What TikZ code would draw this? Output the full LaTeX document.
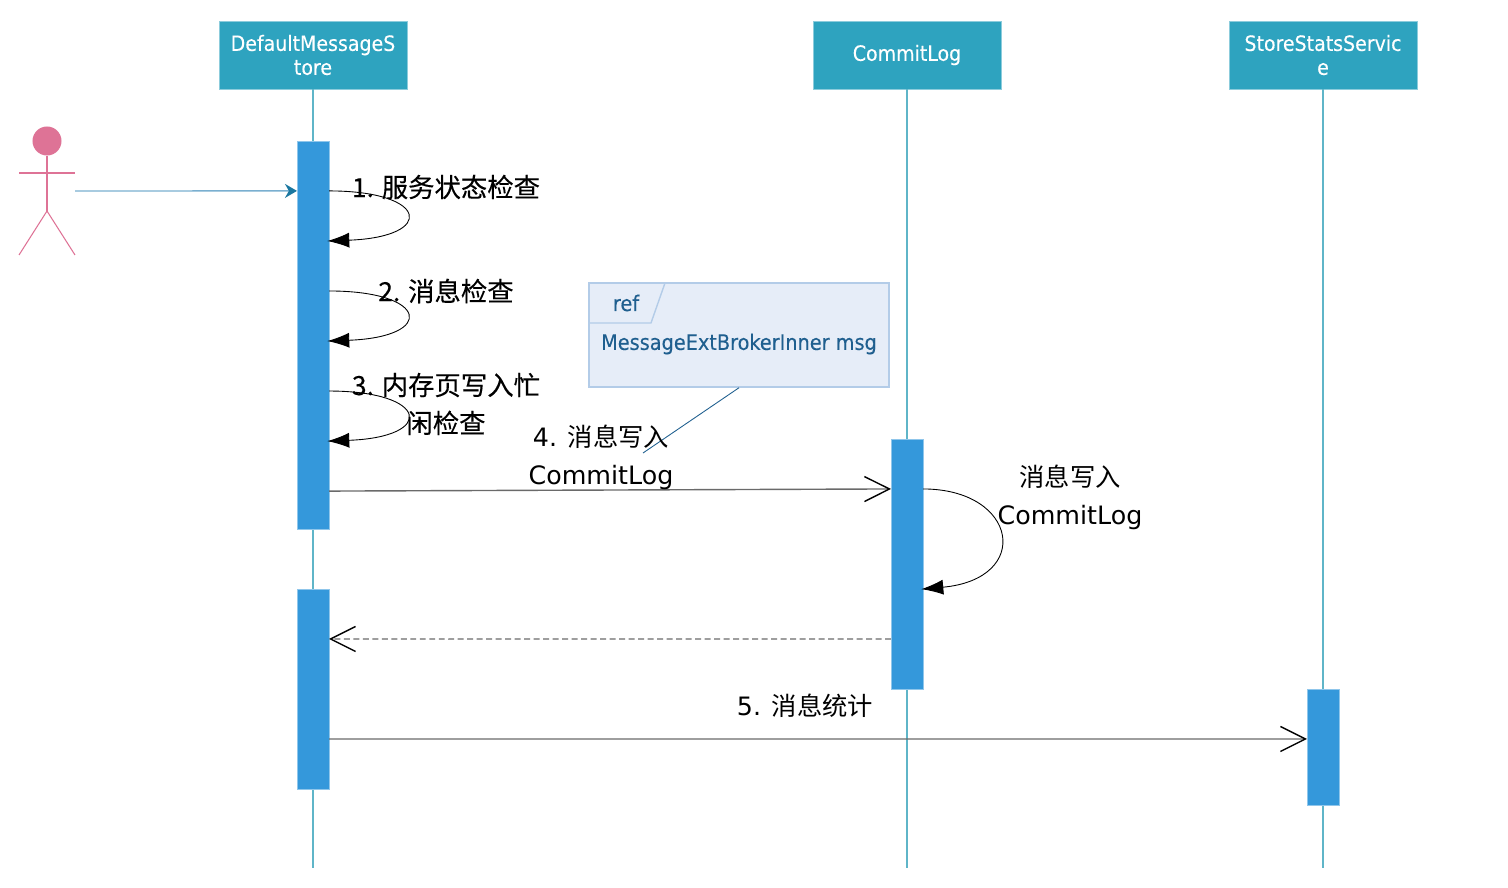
\documentclass[tikz,border=0pt]{standalone}
\usepackage{fontspec}
\setmainfont{DejaVu Sans}
\newfontfamily\cjk{Noto Sans CJK SC}
\newfontfamily\cjkbold[FakeBold=0.25]{Noto Sans CJK SC}
\newfontfamily\boxfont[FakeBold=0.2]{DejaVu Sans Condensed}
\usetikzlibrary{arrows.meta}
\definecolor{headfill}{HTML}{2EA3BF}
\definecolor{lifeteal}{HTML}{5FB5C8}
\definecolor{barblue}{HTML}{3498DB}
\definecolor{actorpink}{HTML}{DE7396}
\definecolor{refedge}{HTML}{B3CCE8}
\definecolor{reffill}{HTML}{E6EDF8}
\definecolor{reftext}{HTML}{1F5F8F}
\definecolor{msggray}{HTML}{6A6A6A}
\definecolor{startblue}{HTML}{7AAFD0}
\begin{document}
\begin{tikzpicture}
		[x=0.01cm,y=-0.01cm,
		head/.style={draw=headfill!55!white,fill=headfill,text=white,minimum width=1.88cm,minimum height=0.68cm,inner sep=0pt,outer sep=0pt,align=center,line width=.15pt,font=\boxfont\fontsize{6}{6.8}\selectfont},
		life/.style={lifeteal,line width=.4pt},
		bar/.style={draw=barblue!55!white,fill=barblue,minimum width=0.32cm,inner sep=0pt,outer sep=0pt,line width=.15pt},
		actor/.style={actorpink,line width=.3pt},
		selfcall/.style={-{Latex[length=0.22cm,width=0.15cm]},black,line width=.25pt,shorten >=-0.5pt},
		call/.style={-{Straight Barb[length=0.25cm,width=0.25cm,color=black]},msggray,line width=.4pt},
		label/.style={font=\fontsize{7.2}{10.8}\selectfont,align=center,inner sep=0pt},
		boldlabel/.style={font=\cjkbold\fontsize{7.5}{10.8}\selectfont,align=center,inner sep=0pt},
		reflabel/.style={text=reftext,font=\boxfont\fontsize{6.1}{8}\selectfont}]
		\useasboundingbox (0,0) rectangle (1508,888);

		% draw the header boxes
		\node [head] (store) at (313,55) {DefaultMessageS\\tore};
		\node [head] (commit) at (907,55) {CommitLog};
		\node [head] (stats) at (1323,55) {StoreStatsServic\\e};

		% draw the life lines
		\coordinate (storeend) at (313,868);
		\coordinate (commitend) at (907,868);
		\coordinate (statsend) at (1323,868);
		\draw [life] (store) -- (storeend);
		\draw [life] (commit) -- (commitend);
		\draw [life] (stats) -- (statsend);

		% draw the activation bars
		\node [bar,minimum height=3.88cm] (storebar) at (313,335) {};
		\node [bar,minimum height=2cm] (storebartwo) at (313,689) {};
		\node [bar,minimum height=2.5cm] (commitbar) at (907,564) {};
		\node [bar,minimum height=1.16cm] (statsbar) at (1323,747) {};

		% draw the actor
		\node [circle,fill=actorpink,inner sep=0pt,minimum size=0.29cm] (actorhead) at (47,141) {};
		\coordinate (hip) at (47,211);
		\coordinate (armleft) at (19,173);
		\coordinate (armright) at (75,173);
		\coordinate (legleft) at (19,255);
		\coordinate (legright) at (75,255);
		\coordinate (actorstart) at (75,191);
		\draw [actor] (actorhead) -- (hip);
		\draw [actor] (armleft) -- (armright);
		\draw [actor] (legleft) -- (hip) -- (legright);
		\draw [-{Stealth[length=0.12cm,width=0.14cm,color=reftext!85!cyan]},draw=startblue,line width=.4pt] (actorstart) -- ([yshift=-0.5cm]storebar.north west);

		% draw the self calls
		\draw [selfcall] ([yshift=-0.5cm]storebar.north east) .. controls +(100,0) and +(107,-4) .. ([yshift=-1cm]storebar.north east);
		\draw [selfcall] ([yshift=-1.5cm]storebar.north east) .. controls +(100,0) and +(107,-4) .. ([yshift=-2cm]storebar.north east);
		\draw [selfcall] ([yshift=-2.5cm]storebar.north east) .. controls +(100,0) and +(107,-4) .. ([yshift=-3cm]storebar.north east);
		\draw [selfcall] ([yshift=-0.5cm]commitbar.north east) .. controls +(95,0) and +(110,-10) .. ([yshift=-1.5cm]commitbar.north east);

		% draw the calls between the bars
		\draw [call] ([yshift=-3.5cm]storebar.north east) -- ([yshift=-0.5cm]commitbar.north west);
		\draw [call,dash pattern=on 1.7pt off 1pt] ([yshift=-2cm]commitbar.north west) -- ([yshift=-0.5cm]storebartwo.north east);
		\draw [call] ([yshift=-1.5cm]storebartwo.north east) -- ([yshift=-0.5cm]statsbar.north west);

		% draw the ref note
		\node [draw=refedge,fill=reffill,minimum width=3cm,minimum height=1.04cm,inner sep=0pt,line width=.4pt] (refbox) at (739,335) {};
		\coordinate (tabtop) at (665,283);
		\coordinate (tabbottom) at (651,323);
		\coordinate (tableft) at (589,323);
		\coordinate (notetip) at (643,453);
		\draw [refedge,line width=.4pt] (tabtop) -- (tabbottom) -- (tableft);
		\draw [reftext,line width=.25pt] (refbox.south) -- (notetip);
		\node [reflabel] (reftag) at (626,303) {ref};
		\node [reflabel] (refmsg) at (739,344) {MessageExtBrokerInner msg};

		% draw the labels
		\node [boldlabel] (checkone) at (446,187) {1. 服务状态检查};
		\node [boldlabel] (checktwo) at (446,291) {2. 消息检查};
		\node [boldlabel] (checkthree) at (446,404) {3. 内存页写入忙\\闲检查};
		\node [label] (writecall) at (601,457) {4. {\cjk 消息写入}\\CommitLog};
		\node [label] (writeself) at (1070,497) {{\cjk 消息写入}\\CommitLog};
		\node [label] (statscall) at (805,706) {5. {\cjk 消息统计}};
	\end{tikzpicture}
\end{document}
